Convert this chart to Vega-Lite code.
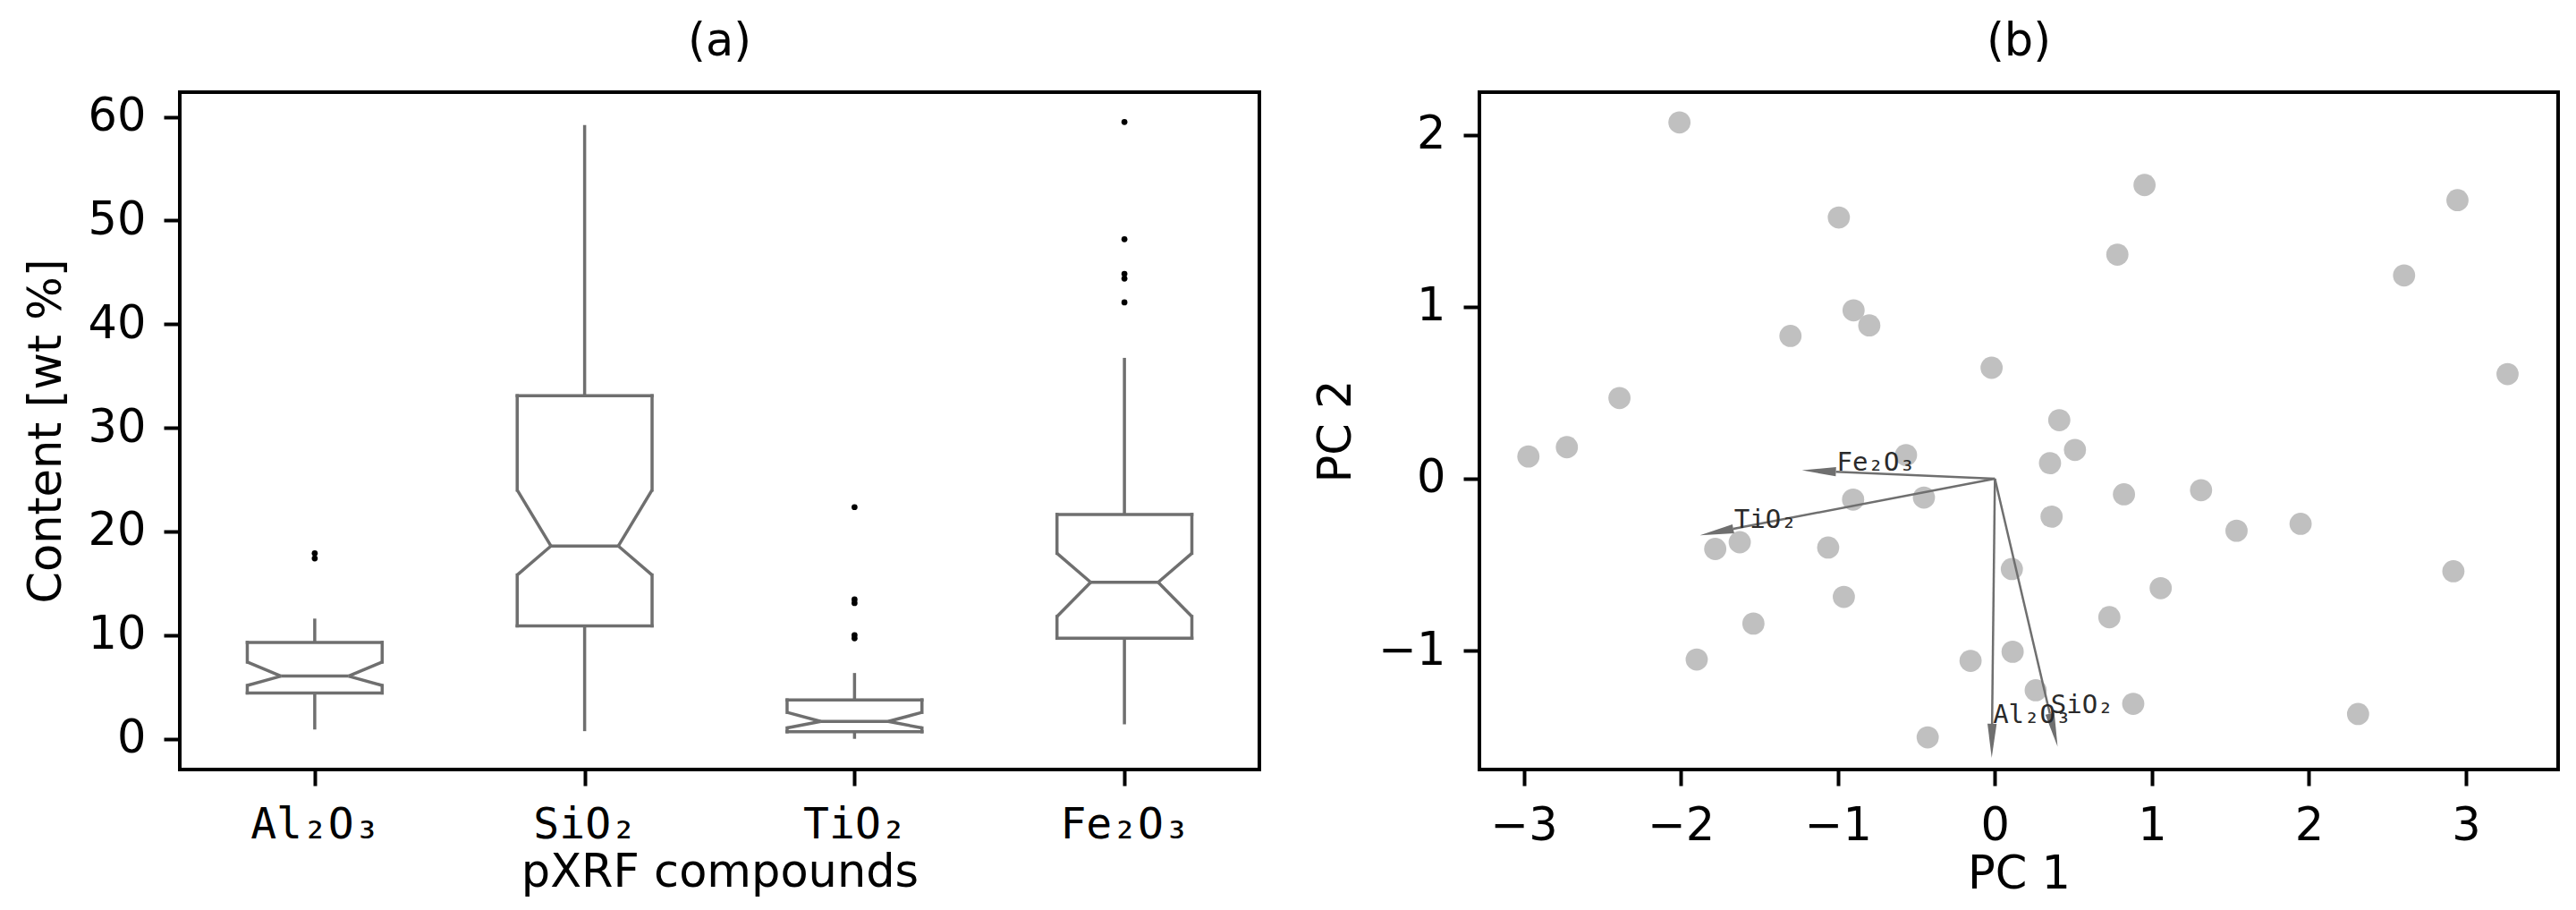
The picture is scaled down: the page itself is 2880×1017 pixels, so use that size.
{
  "$schema": "https://vega.github.io/schema/vega-lite/v6.json",
  "background": "white",
  "padding": {"left": 24, "top": 19, "right": 5, "bottom": 5},
  "spacing": 56,
  "config": {
    "font": "DejaVu Sans",
    "view": {"stroke": "black", "strokeWidth": 4},
    "axis": {"domain": false, "grid": false, "tickColor": "black", "tickWidth": 4, "tickSize": 18, "labelFont": "DejaVu Sans", "labelFontSize": 51, "labelColor": "black", "labelPadding": 20, "titleFont": "DejaVu Sans", "titleFontSize": 51, "titleFontWeight": "normal", "titleColor": "black", "titlePadding": 20, "labelFlush": false, "labelOverlap": false},
    "axisX": {"titlePadding": 4},
    "title": {"font": "DejaVu Sans", "fontSize": 51, "fontWeight": "normal", "color": "black", "offset": 30, "baseline": "alphabetic"}
  },
  "datasets": {
    "boxes": [
      {"compound": "Al₂O₃", "lo": 0.9, "q1": 4.43, "nlo": 5.15, "med": 6.05, "nhi": 7.4, "q3": 9.3, "hi": 11.6},
      {"compound": "SiO₂", "lo": 0.74, "q1": 10.9, "nlo": 15.8, "med": 18.6, "nhi": 24.0, "q3": 33.1, "hi": 59.2},
      {"compound": "TiO₂", "lo": 0.0, "q1": 0.68, "nlo": 1.05, "med": 1.68, "nhi": 2.55, "q3": 3.75, "hi": 6.35},
      {"compound": "Fe₂O₃", "lo": 1.4, "q1": 9.7, "nlo": 11.8, "med": 15.1, "nhi": 17.9, "q3": 21.65, "hi": 36.75}
    ],
    "fliers": [
      {"compound": "Al₂O₃", "value": 17.9},
      {"compound": "Al₂O₃", "value": 17.4},
      {"compound": "TiO₂", "value": 22.35},
      {"compound": "TiO₂", "value": 13.45},
      {"compound": "TiO₂", "value": 13.1},
      {"compound": "TiO₂", "value": 10.0},
      {"compound": "TiO₂", "value": 9.7},
      {"compound": "Fe₂O₃", "value": 59.5},
      {"compound": "Fe₂O₃", "value": 48.2},
      {"compound": "Fe₂O₃", "value": 44.85},
      {"compound": "Fe₂O₃", "value": 44.4},
      {"compound": "Fe₂O₃", "value": 42.1}
    ],
    "scores": [
      {"pc1": -2.009, "pc2": 2.072}, {"pc1": 0.953, "pc2": 1.708}, {"pc1": 2.946, "pc2": 1.62},
      {"pc1": -0.994, "pc2": 1.519}, {"pc1": 0.78, "pc2": 1.303}, {"pc1": 2.606, "pc2": 1.182},
      {"pc1": -0.9, "pc2": 0.979}, {"pc1": -0.8, "pc2": 0.891}, {"pc1": -1.302, "pc2": 0.83},
      {"pc1": -0.021, "pc2": 0.645}, {"pc1": 3.265, "pc2": 0.608}, {"pc1": -2.391, "pc2": 0.469},
      {"pc1": 0.41, "pc2": 0.34}, {"pc1": -2.726, "pc2": 0.183}, {"pc1": -2.971, "pc2": 0.129},
      {"pc1": 0.51, "pc2": 0.167}, {"pc1": 0.351, "pc2": 0.09}, {"pc1": -0.566, "pc2": 0.137},
      {"pc1": -0.903, "pc2": -0.122}, {"pc1": -0.452, "pc2": -0.11}, {"pc1": 0.822, "pc2": -0.091},
      {"pc1": 1.313, "pc2": -0.067}, {"pc1": 0.361, "pc2": -0.221}, {"pc1": 1.947, "pc2": -0.263},
      {"pc1": 1.539, "pc2": -0.303}, {"pc1": -1.625, "pc2": -0.37}, {"pc1": -1.781, "pc2": -0.409},
      {"pc1": -1.062, "pc2": -0.401}, {"pc1": 0.108, "pc2": -0.526}, {"pc1": 2.92, "pc2": -0.539},
      {"pc1": 1.056, "pc2": -0.637}, {"pc1": -0.962, "pc2": -0.688}, {"pc1": 0.729, "pc2": -0.806},
      {"pc1": -1.538, "pc2": -0.843}, {"pc1": 0.113, "pc2": -1.007}, {"pc1": -0.155, "pc2": -1.06},
      {"pc1": -1.899, "pc2": -1.052}, {"pc1": 0.26, "pc2": -1.231}, {"pc1": 0.881, "pc2": -1.31},
      {"pc1": 2.313, "pc2": -1.369}, {"pc1": -0.428, "pc2": -1.505}
    ],
    "loadings": [
      {"name": "Fe₂O₃", "pc1": -1.0125, "pc2": 0.0403},
      {"name": "TiO₂", "pc1": -1.666, "pc2": -0.292},
      {"name": "Al₂O₃", "pc1": -0.018, "pc2": -1.426},
      {"name": "SiO₂", "pc1": 0.35, "pc2": -1.367}
    ]
  },
  "hconcat": [
    {
      "width": 1207,
      "height": 757,
      "title": {"text": "(a)"},
      "data": {"name": "boxes"},
      "encoding": {
        "x": {"field": "compound", "type": "nominal", "scale": {"type": "point", "padding": 0.5, "domain": ["Al₂O₃", "SiO₂", "TiO₂", "Fe₂O₃"]}, "axis": {"labelFont": "DejaVu Sans Mono", "labelAngle": 0, "labelFontSize": 48}, "title": "pXRF compounds"}
      },
      "layer": [
        {"mark": {"type": "rule", "color": "#6f6f6f", "strokeWidth": 3.5},
         "encoding": {"y": {"field": "q3", "type": "quantitative", "scale": {"domain": [-2.96, 62.38], "nice": false, "zero": false}, "axis": {"values": [0, 10, 20, 30, 40, 50, 60], "format": "d"}, "title": "Content [wt %]"}, "y2": {"field": "hi"}}},
        {"mark": {"type": "rule", "color": "#6f6f6f", "strokeWidth": 3.5},
         "encoding": {"y": {"field": "lo", "type": "quantitative", "scale": {"domain": [-2.96, 62.38], "nice": false, "zero": false}, "title": "Content [wt %]"}, "y2": {"field": "q1"}}},
        {"mark": {"type": "rule", "color": "#6f6f6f", "strokeWidth": 3.5, "strokeCap": "square", "xOffset": -75.4, "x2Offset": 75.4},
         "encoding": {"x2": {"field": "compound"}, "y": {"field": "q3", "type": "quantitative", "scale": {"domain": [-2.96, 62.38], "nice": false, "zero": false}, "title": "Content [wt %]"}}},
        {"mark": {"type": "rule", "color": "#6f6f6f", "strokeWidth": 3.5, "strokeCap": "square", "xOffset": -75.4, "x2Offset": 75.4},
         "encoding": {"x2": {"field": "compound"}, "y": {"field": "q1", "type": "quantitative", "scale": {"domain": [-2.96, 62.38], "nice": false, "zero": false}, "title": "Content [wt %]"}}},
        {"mark": {"type": "rule", "color": "#6f6f6f", "strokeWidth": 3.5, "xOffset": -37.7, "x2Offset": 37.7},
         "encoding": {"x2": {"field": "compound"}, "y": {"field": "med", "type": "quantitative", "scale": {"domain": [-2.96, 62.38], "nice": false, "zero": false}, "title": "Content [wt %]"}}},
        {"mark": {"type": "rule", "color": "#6f6f6f", "strokeWidth": 3.5, "strokeCap": "square", "xOffset": -75.4},
         "encoding": {"y": {"field": "nhi", "type": "quantitative", "scale": {"domain": [-2.96, 62.38], "nice": false, "zero": false}, "title": "Content [wt %]"}, "y2": {"field": "q3"}}},
        {"mark": {"type": "rule", "color": "#6f6f6f", "strokeWidth": 3.5, "xOffset": -75.4, "x2Offset": -37.7},
         "encoding": {"x2": {"field": "compound"}, "y": {"field": "nhi", "type": "quantitative", "scale": {"domain": [-2.96, 62.38], "nice": false, "zero": false}, "title": "Content [wt %]"}, "y2": {"field": "med"}}},
        {"mark": {"type": "rule", "color": "#6f6f6f", "strokeWidth": 3.5, "xOffset": -75.4, "x2Offset": -37.7},
         "encoding": {"x2": {"field": "compound"}, "y": {"field": "nlo", "type": "quantitative", "scale": {"domain": [-2.96, 62.38], "nice": false, "zero": false}, "title": "Content [wt %]"}, "y2": {"field": "med"}}},
        {"mark": {"type": "rule", "color": "#6f6f6f", "strokeWidth": 3.5, "strokeCap": "square", "xOffset": -75.4},
         "encoding": {"y": {"field": "q1", "type": "quantitative", "scale": {"domain": [-2.96, 62.38], "nice": false, "zero": false}, "title": "Content [wt %]"}, "y2": {"field": "nlo"}}},
        {"mark": {"type": "rule", "color": "#6f6f6f", "strokeWidth": 3.5, "strokeCap": "square", "xOffset": 75.4},
         "encoding": {"y": {"field": "nhi", "type": "quantitative", "scale": {"domain": [-2.96, 62.38], "nice": false, "zero": false}, "title": "Content [wt %]"}, "y2": {"field": "q3"}}},
        {"mark": {"type": "rule", "color": "#6f6f6f", "strokeWidth": 3.5, "xOffset": 75.4, "x2Offset": 37.7},
         "encoding": {"x2": {"field": "compound"}, "y": {"field": "nhi", "type": "quantitative", "scale": {"domain": [-2.96, 62.38], "nice": false, "zero": false}, "title": "Content [wt %]"}, "y2": {"field": "med"}}},
        {"mark": {"type": "rule", "color": "#6f6f6f", "strokeWidth": 3.5, "xOffset": 75.4, "x2Offset": 37.7},
         "encoding": {"x2": {"field": "compound"}, "y": {"field": "nlo", "type": "quantitative", "scale": {"domain": [-2.96, 62.38], "nice": false, "zero": false}, "title": "Content [wt %]"}, "y2": {"field": "med"}}},
        {"mark": {"type": "rule", "color": "#6f6f6f", "strokeWidth": 3.5, "strokeCap": "square", "xOffset": 75.4},
         "encoding": {"y": {"field": "q1", "type": "quantitative", "scale": {"domain": [-2.96, 62.38], "nice": false, "zero": false}, "title": "Content [wt %]"}, "y2": {"field": "nlo"}}},
        {"data": {"name": "fliers"},
         "mark": {"type": "circle", "size": 45, "color": "black", "opacity": 1},
         "encoding": {"y": {"field": "value", "type": "quantitative", "scale": {"domain": [-2.96, 62.38], "nice": false, "zero": false}, "title": "Content [wt %]"}}}
      ]
    },
    {
      "width": 1206,
      "height": 757,
      "title": {"text": "(b)"},
      "layer": [
        {"data": {"name": "scores"},
         "mark": {"type": "circle", "size": 615, "color": "#c0c0c0", "opacity": 1},
         "encoding": {
           "x": {"field": "pc1", "type": "quantitative", "scale": {"domain": [-3.283, 3.587], "nice": false, "zero": false}, "axis": {"values": [-3, -2, -1, 0, 1, 2, 3], "format": "d"}, "title": "PC 1"},
           "y": {"field": "pc2", "type": "quantitative", "scale": {"domain": [-1.692, 2.248], "nice": false, "zero": false}, "axis": {"values": [-1, 0, 1, 2], "format": "d"}, "title": "PC 2"}
         }},
        {"data": {"name": "loadings"},
         "mark": {"type": "rule", "color": "#6f6f6f", "strokeWidth": 2.5},
         "encoding": {
           "x": {"field": "pc1", "type": "quantitative", "scale": {"domain": [-3.283, 3.587], "nice": false, "zero": false}, "title": "PC 1"},
           "y": {"field": "pc2", "type": "quantitative", "scale": {"domain": [-1.692, 2.248], "nice": false, "zero": false}, "title": "PC 2"},
           "x2": {"datum": 0},
           "y2": {"datum": 0}
         }},
        {"data": {"name": "loadings"},
         "transform": [{"filter": "datum.name === 'Fe₂O₃'"}],
         "mark": {"type": "point", "shape": "M0,-0.27L2,0L0,0.27Z", "size": 1444, "filled": true, "color": "#6f6f6f", "opacity": 1, "angle": -177.5},
         "encoding": {
           "x": {"field": "pc1", "type": "quantitative", "scale": {"domain": [-3.283, 3.587], "nice": false, "zero": false}, "title": "PC 1"},
           "y": {"field": "pc2", "type": "quantitative", "scale": {"domain": [-1.692, 2.248], "nice": false, "zero": false}, "title": "PC 2"}
         }},
        {"data": {"name": "loadings"},
         "transform": [{"filter": "datum.name === 'TiO₂'"}],
         "mark": {"type": "point", "shape": "M0,-0.27L2,0L0,0.27Z", "size": 1444, "filled": true, "color": "#6f6f6f", "opacity": 1, "angle": 169.15},
         "encoding": {
           "x": {"field": "pc1", "type": "quantitative", "scale": {"domain": [-3.283, 3.587], "nice": false, "zero": false}, "title": "PC 1"},
           "y": {"field": "pc2", "type": "quantitative", "scale": {"domain": [-1.692, 2.248], "nice": false, "zero": false}, "title": "PC 2"}
         }},
        {"data": {"name": "loadings"},
         "transform": [{"filter": "datum.name === 'Al₂O₃'"}],
         "mark": {"type": "point", "shape": "M0,-0.27L2,0L0,0.27Z", "size": 1444, "filled": true, "color": "#6f6f6f", "opacity": 1, "angle": 90.64},
         "encoding": {
           "x": {"field": "pc1", "type": "quantitative", "scale": {"domain": [-3.283, 3.587], "nice": false, "zero": false}, "title": "PC 1"},
           "y": {"field": "pc2", "type": "quantitative", "scale": {"domain": [-1.692, 2.248], "nice": false, "zero": false}, "title": "PC 2"}
         }},
        {"data": {"name": "loadings"},
         "transform": [{"filter": "datum.name === 'SiO₂'"}],
         "mark": {"type": "point", "shape": "M0,-0.27L2,0L0,0.27Z", "size": 1444, "filled": true, "color": "#6f6f6f", "opacity": 1, "angle": 76.8},
         "encoding": {
           "x": {"field": "pc1", "type": "quantitative", "scale": {"domain": [-3.283, 3.587], "nice": false, "zero": false}, "title": "PC 1"},
           "y": {"field": "pc2", "type": "quantitative", "scale": {"domain": [-1.692, 2.248], "nice": false, "zero": false}, "title": "PC 2"}
         }},
        {"data": {"name": "loadings"},
         "mark": {"type": "text", "align": "left", "baseline": "bottom", "dx": 1, "dy": 5, "font": "DejaVu Sans Mono", "fontSize": 29, "color": "#2a2a2a"},
         "encoding": {
           "x": {"field": "pc1", "type": "quantitative", "scale": {"domain": [-3.283, 3.587], "nice": false, "zero": false}, "title": "PC 1"},
           "y": {"field": "pc2", "type": "quantitative", "scale": {"domain": [-1.692, 2.248], "nice": false, "zero": false}, "title": "PC 2"},
           "text": {"field": "name"}
         }}
      ]
    }
  ]
}
